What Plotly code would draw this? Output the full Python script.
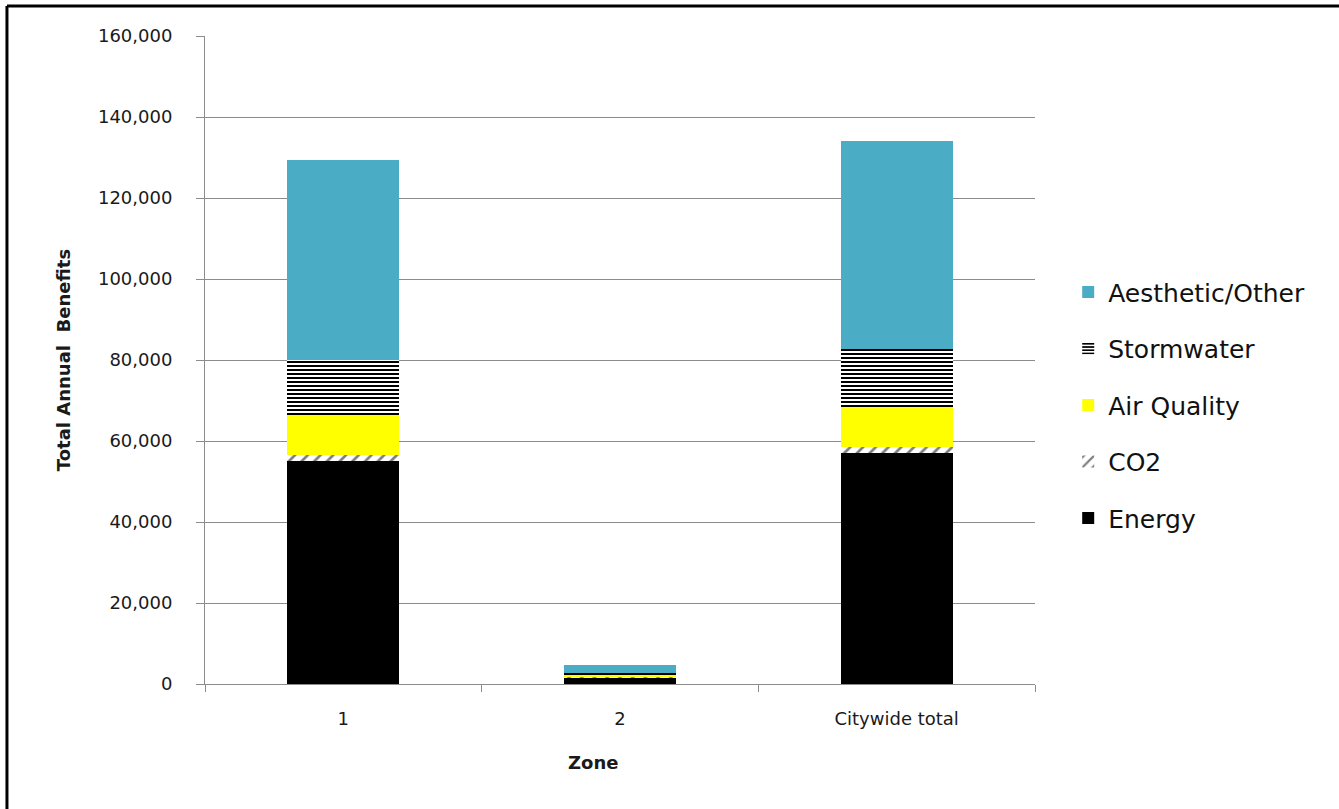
import plotly.graph_objects as go

zones = ["1", "2", "Citywide total"]
energy = [55100, 1700, 57000]
co2 = [1400, 100, 1500]
air_quality = [9900, 500, 9900]
stormwater = [13600, 400, 14300]
aesthetic = [49400, 2000, 51400]
y_ticks = [0, 20000, 40000, 60000, 80000, 100000, 120000, 140000, 160000]

series = [
    ("Energy", energy, dict(color="#000000")),
    ("CO2", co2, dict(color="#ffffff",
                      pattern=dict(shape="/", fgcolor="#000000", bgcolor="#ffffff",
                                   size=9, solidity=0.3))),
    ("Air Quality", air_quality, dict(color="#ffff00")),
    ("Stormwater", stormwater, dict(color="#ffffff",
                                    pattern=dict(shape="-", fgcolor="#000000", bgcolor="#ffffff",
                                                 fgopacity=1, size=4, solidity=0.5))),
    ("Aesthetic/Other", aesthetic, dict(color="#4bacc6")),
]

fig = go.Figure()
n = len(series)
for i, (name, vals, marker) in enumerate(series):
    fig.add_trace(go.Bar(x=zones, y=vals, name=name, legendgroup=name,
                         legendrank=(n - i) * 100,
                         marker=dict(line=dict(width=0), **marker)))

fig.update_layout(
    barmode="stack",
    bargap=0.595,
    width=1339,
    height=809,
    margin=dict(l=205, r=304, t=36, b=125),
    paper_bgcolor="white",
    plot_bgcolor="white",
    font=dict(family="DejaVu Sans", color="#1a1a1a"),
    legend=dict(
        traceorder="grouped",
        x=1.04, xanchor="left",
        y=0.43, yanchor="middle",
        font=dict(size=25, family="DejaVu Sans", color="#111111"),
        itemwidth=30,
        tracegroupgap=21,
    ),
    xaxis=dict(
        showline=True, linecolor="#8c8c8c", linewidth=1,
        ticks="outside", ticklen=7, tickcolor="#8c8c8c", tickson="boundaries",
        tickfont=dict(size=18, color="#1a1a1a"),
        ticklabelstandoff=18,
        showgrid=False,
    ),
    yaxis=dict(
        range=[0, 160000],
        tickvals=y_ticks,
        tickformat=",",
        showline=True, linecolor="#8c8c8c", linewidth=1,
        ticks="outside", ticklen=8, tickcolor="#8c8c8c",
        tickfont=dict(size=18, color="#1a1a1a"),
        ticklabelstandoff=20,
        showgrid=True, gridcolor="#8c8c8c", gridwidth=1,
        zeroline=False,
        title=dict(text="<b>Total Annual  Benefits</b>", font=dict(size=18, color="#1a1a1a"), standoff=22),
    ),
    annotations=[
        dict(text="<b>Zone</b>", xref="paper", yref="paper", x=0.467, y=-0.121,
             xanchor="center", yanchor="middle", showarrow=False,
             font=dict(size=18, color="#1a1a1a")),
    ],
)

# outer frame of the chart area
fig.add_shape(type="line", xref="paper", yref="paper",
              x0=-0.2386, x1=-0.2386, y0=-0.25, y1=1.0463,
              line=dict(color="#000000", width=3))
fig.add_shape(type="line", xref="paper", yref="paper",
              x0=-0.2386, x1=1.40, y0=1.0463, y1=1.0463,
              line=dict(color="#000000", width=3))

fig.write_html("out.html")
